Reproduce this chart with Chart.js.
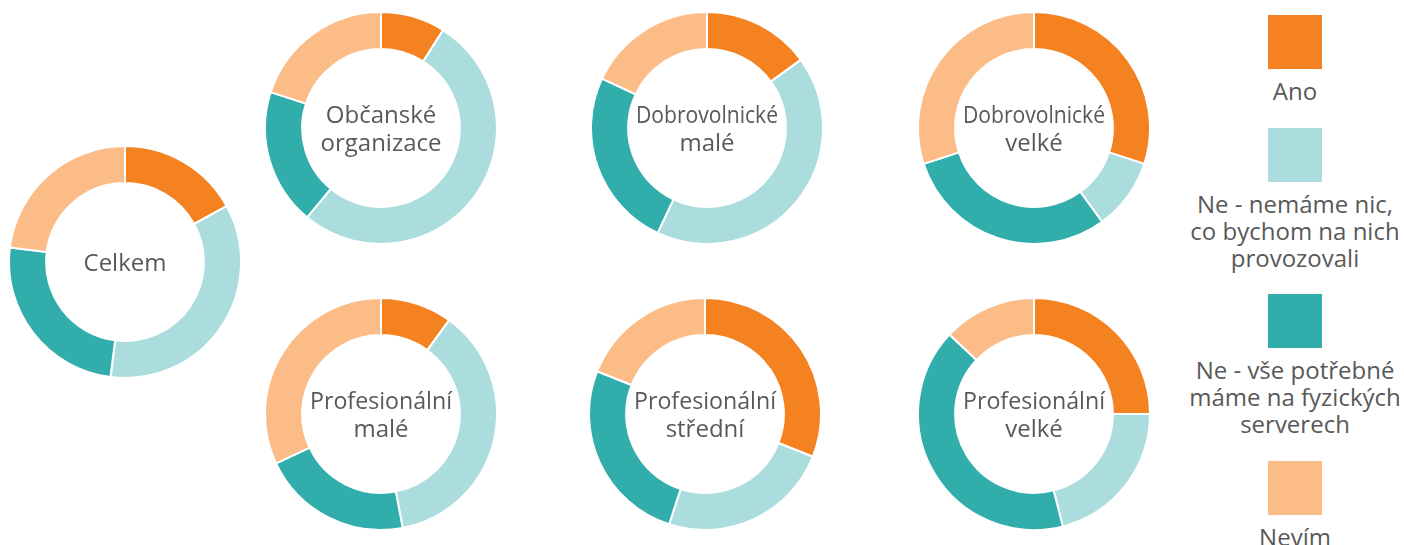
<!DOCTYPE html>
<html lang="cs">
<head>
    <meta charset="UTF-8">
    <title>Servery - doughnut grafy</title>
    <script src="https://cdn.jsdelivr.net/npm/chart.js"></script>
    <style>
        body { margin: 0; background: #fff; font-family: "Open Sans", sans-serif; color: #595959; }
        #stage { position: relative; width: 1404px; height: 545px; overflow: hidden; }
        .kolac { position: absolute; width: 234px; height: 234px; }
        .leg-box { position: absolute; width: 54px; height: 54px; left: 1268px; }
        .leg-text { position: absolute; left: 1175px; width: 240px; text-align: center; font-size: 24px; line-height: 27px; }
    </style>
</head>
<body>
    <div id="stage"></div>

    <script>
        // kategorie odpovedi
        const kategorie = ['Ano', 'Ne - nemáme nic, co bychom na nich provozovali', 'Ne - vše potřebné máme na fyzických serverech', 'Nevím'];
        const legendaRadky = [
            ['Ano'],
            ['Ne - nemáme nic,', 'co bychom na nich', 'provozovali'],
            ['Ne - vše potřebné', 'máme na fyzických', 'serverech'],
            ['Nevím']
        ];
        const barvy = ['#F58220', '#ABDDDE', '#31ADAB', '#FBBC87'];

        // skupiny (popisky uprostred)
        const skupiny = [
            ['Celkem'],
            ['Občanské', 'organizace'],
            ['Dobrovolnické', 'malé'],
            ['Dobrovolnické', 'velké'],
            ['Profesionální', 'malé'],
            ['Profesionální', 'střední'],
            ['Profesionální', 'velké']
        ];

        // podily v % (Ano, Ne-nemame, Ne-vse, Nevim)
        const celkem = [17, 35, 25, 23];
        const obcanske = [9, 52, 19, 20];
        const dobrovolnickeMale = [15, 42, 25, 18];
        const dobrovolnickeVelke = [30, 10, 30, 30];
        const profesionalniMale = [10, 37, 21, 32];
        const profesionalniStredni = [31, 24, 26, 19];
        const profesionalniVelke = [25, 21, 41, 13];

        const hodnoty = [celkem, obcanske, dobrovolnickeMale, dobrovolnickeVelke,
                         profesionalniMale, profesionalniStredni, profesionalniVelke];

        // stredy grafu na strance
        const stredy = [[125, 262], [381, 128], [707, 128], [1034, 128],
                        [381, 414], [705, 414], [1034, 414]];

        const stage = document.getElementById('stage');

        const popisekUprostred = {
            id: 'popisekUprostred',
            afterDraw(chart) {
                const radky = chart.options.plugins.popisekUprostred.radky;
                const arc = chart.getDatasetMeta(0).data[0];
                const ctx = chart.ctx;
                ctx.save();
                ctx.font = '24px "Open Sans"';
                ctx.fillStyle = '#595959';
                ctx.textAlign = 'center';
                ctx.textBaseline = 'alphabetic';
                radky.forEach((r, i) => {
                    const y = arc.y + 8.5 + (i - (radky.length - 1) / 2) * 28;
                    // dlouha slova se stlaci do vnitrniho kruhu
                    ctx.fillText(r, arc.x, y, 142);
                });
                ctx.restore();
            }
        };

        hodnoty.forEach((data, i) => {
            const div = document.createElement('div');
            div.className = 'kolac';
            div.style.left = (stredy[i][0] - 117) + 'px';
            div.style.top = (stredy[i][1] - 117) + 'px';
            const canvas = document.createElement('canvas');
            div.appendChild(canvas);
            stage.appendChild(div);

            new Chart(canvas, {
                type: 'doughnut',
                data: {
                    labels: kategorie,
                    datasets: [{
                        data: data,
                        backgroundColor: barvy,
                        borderColor: '#ffffff',
                        borderWidth: 2
                    }]
                },
                options: {
                    responsive: true,
                    maintainAspectRatio: false,
                    animation: false,
                    cutout: '68%',
                    layout: { padding: 0 },
                    plugins: {
                        legend: { display: false },
                        tooltip: { enabled: true },
                        popisekUprostred: { radky: skupiny[i] }
                    }
                },
                plugins: [popisekUprostred]
            });
        });

        // legenda vpravo
        const legTop = [15, 128, 294, 461];
        legendaRadky.forEach((radky, i) => {
            const box = document.createElement('div');
            box.className = 'leg-box';
            box.style.top = legTop[i] + 'px';
            box.style.background = barvy[i];
            stage.appendChild(box);

            const txt = document.createElement('div');
            txt.className = 'leg-text';
            txt.style.top = (legTop[i] + 54 + 7.5) + 'px';
            txt.innerHTML = radky.join('<br>');
            stage.appendChild(txt);
        });
    </script>
</body>
</html>
